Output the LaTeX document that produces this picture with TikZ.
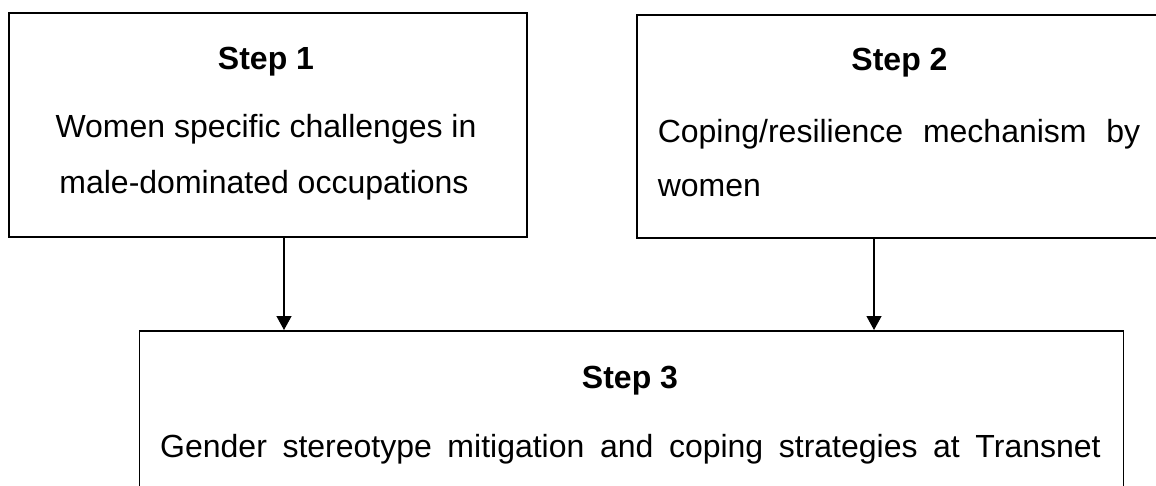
\documentclass[tikz,border=0pt]{standalone}
\usepackage{fontspec}
\setmainfont{Liberation Sans}
\usetikzlibrary{arrows.meta}
\begin{document}
\begin{tikzpicture}[x=1pt,y=-1pt,
  stepbox/.style={draw=black, line width=1.6pt, inner sep=0pt, anchor=north west},
  txt/.style={anchor=base, inner sep=0pt, font=\fontsize{32pt}{38pt}\selectfont},
  txtl/.style={txt, anchor=base west},
  head/.style={txt, font=\fontsize{32pt}{38pt}\selectfont\bfseries},
  arr/.style={line width=1.3pt, -{Triangle[length=14pt,width=15pt]}}]
\useasboundingbox (0,0) rectangle (1156,486);
\fill[white] (0,0) rectangle (1156,486);
\clip (0,0) rectangle (1156,486);

% boxes
\node[stepbox, minimum width=518pt, minimum height=224pt] (b1) at (8,12) {};
\node[stepbox, minimum width=526pt, minimum height=223pt] (b2) at (636,14) {};
\node[stepbox, minimum width=984pt, minimum height=220pt] (b3) at (138.5,330) {};

% texts of step 1
\node[head] (h1) at (266,70) {Step 1};
\node[txt] (t1a) at (266,138) {Women specific challenges in};
\node[txt] (t1b) at (264,194) {male-dominated occupations};

% texts of step 2
\node[head] (h2) at (899.5,71) {Step 2};
\node[txtl] (t2a) at (657.6,142.5) {\makebox[482.5pt][s]{Coping/resilience mechanism by}};
\node[txtl] (t2b) at (657.6,197) {women};

% texts of step 3
\node[head] (h3) at (630,388) {Step 3};
\node[txtl] (t3a) at (160,457) {\makebox[940.5pt][s]{Gender stereotype mitigation and coping strategies at Transnet}};

% connectors
\coordinate (a1) at (284,0);
\coordinate (a2) at (874,0);
\draw[arr] (b1.south -| a1) -- (b3.north -| a1);
\draw[arr] (b2.south -| a2) -- (b3.north -| a2);
\end{tikzpicture}
\end{document}
